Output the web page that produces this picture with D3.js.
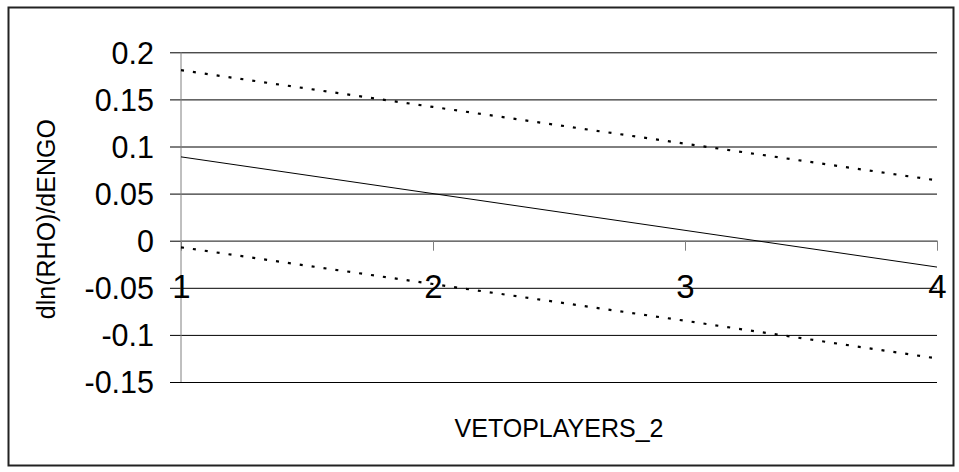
<!DOCTYPE html>
<html>
<head>
<meta charset="utf-8">
<script src="https://cdn.jsdelivr.net/npm/d3@7"></script>
<style>
  body { margin: 0; background: #fff; }
  svg { display: block; font-family: "Liberation Sans", Arial, sans-serif; }
</style>
</head>
<body>
<svg id="chart"></svg>
<script>
const xTicks = [1, 2, 3, 4];
const yTicks = [0.2, 0.15, 0.1, 0.05, 0, -0.05, -0.1, -0.15];
const estimate = [0.089, 0.050, 0.011, -0.028];
const upperBound = [0.181, 0.142, 0.103, 0.064];
const lowerBound = [-0.007, -0.046, -0.085, -0.125];

const width = 959;
const height = 472;

const svg = d3.select('#chart')
    .attr('width', width)
    .attr('height', height);

// outer chart border
svg.append('rect')
    .attr('x', 8.5)
    .attr('y', 7.5)
    .attr('width', 945)
    .attr('height', 458)
    .attr('fill', 'none')
    .attr('stroke', '#222')
    .attr('stroke-width', 2);

const plot = {left: 181, right: 937, top: 52.3, bottom: 382};

const xScale = d3.scaleLinear()
    .domain([1, 4])
    .range([plot.left, plot.right]);
const yScale = d3.scaleLinear()
    .domain([-0.15, 0.2])
    .range([plot.bottom, plot.top]);

// horizontal gridlines + y ticks
const yAxis = d3.axisLeft(yScale)
    .tickValues(yTicks)
    .tickSize(11)
    .tickFormat(d => String(+d.toFixed(2)));

svg.append('g')
    .attr('transform', `translate(${plot.left},0)`)
    .call(yAxis)
    .call(g => g.select('.domain').remove())
    .call(g => g.selectAll('.tick line')
        .attr('x2', -11)
        .attr('x1', plot.right - plot.left)
        .attr('stroke', '#000'))
    .call(g => g.selectAll('.tick text')
        .attr('x', -27)
        .attr('dy', '0.36em')
        .attr('fill', '#000')
        .style('font-size', '30.5px')
        .style('font-family', '"Liberation Sans", Arial, sans-serif'));

// y axis line
svg.append('line')
    .attr('x1', plot.left).attr('x2', plot.left)
    .attr('y1', plot.top).attr('y2', plot.bottom)
    .attr('stroke', '#808080');

// x axis sits on y = 0
const xAxis = d3.axisBottom(xScale)
    .tickValues(xTicks)
    .tickSize(10)
    .tickSizeOuter(0)
    .tickFormat(d3.format('d'));

svg.append('g')
    .attr('transform', `translate(0,${yScale(0)})`)
    .call(xAxis)
    .call(g => g.select('.domain').attr('stroke', '#808080'))
    .call(g => g.selectAll('.tick line').attr('stroke', '#808080'))
    .call(g => g.selectAll('.tick text')
        .attr('y', 57)
        .attr('dy', 0)
        .attr('fill', '#000')
        .style('font-size', '33px')
        .style('font-family', '"Liberation Sans", Arial, sans-serif'));

const line = d3.line()
    .x((d, i) => xScale(xTicks[i]))
    .y(d => yScale(d));

svg.append('path')
    .datum(upperBound)
    .attr('d', line)
    .attr('fill', 'none')
    .attr('stroke', '#000')
    .attr('stroke-width', 2.2)
    .attr('stroke-dasharray', '3,9');

svg.append('path')
    .datum(lowerBound)
    .attr('d', line)
    .attr('fill', 'none')
    .attr('stroke', '#000')
    .attr('stroke-width', 2.2)
    .attr('stroke-dasharray', '3,9');

svg.append('path')
    .datum(estimate)
    .attr('d', line)
    .attr('fill', 'none')
    .attr('stroke', '#000')
    .attr('stroke-width', 1);

// axis titles
svg.append('text')
    .attr('x', (plot.left + plot.right) / 2)
    .attr('y', 437)
    .attr('text-anchor', 'middle')
    .style('font-size', '25px')
    .text('VETOPLAYERS_2');

svg.append('text')
    .attr('transform', `translate(55,${(plot.top + plot.bottom) / 2 + 2}) rotate(-90)`)
    .attr('text-anchor', 'middle')
    .style('font-size', '25px')
    .text('dln(RHO)/dENGO');
</script>
</body>
</html>
